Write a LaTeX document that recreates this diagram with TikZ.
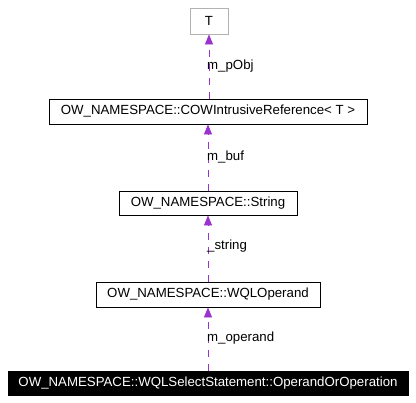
\documentclass[tikz,border=0pt]{standalone}
\usepackage{fontspec}
\setmainfont{Liberation Sans}
\usetikzlibrary{arrows.meta}
\definecolor{edgec}{HTML}{9A32CD}
\begin{document}
\begin{tikzpicture}[x=1bp,y=-1bp,
  cls/.style={draw=black,line width=0.8bp,minimum height=25bp,inner sep=0pt,font=\fontsize{13.3}{15}\selectfont,anchor=center},
  edge/.style={draw=edgec,line width=0.8bp,dash pattern=on 7bp off 7bp,-{Triangle[length=10bp,width=8bp]}},
  lbl/.style={anchor=west,inner sep=0pt,font=\fontsize{13.3}{15}\selectfont}]
\useasboundingbox (0,0) rectangle (416,403);
\node[cls,draw=gray!60,minimum width=38bp,minimum height=26bp] (t) at (209,21) {T};
\node[cls,minimum width=318bp] (cow) at (208,111.5) {OW\_NAMESPACE::COWIntrusiveReference< T >};
\node[cls,minimum width=178bp,minimum height=24bp] (str) at (208,203) {OW\_NAMESPACE::String};
\node[cls,minimum width=224bp] (wql) at (208,294.5) {OW\_NAMESPACE::WQLOperand};
\node[cls,fill=black,text=white,minimum width=400bp,minimum height=24bp] (op) at (208,383.5) {OW\_NAMESPACE::WQLSelectStatement::OperandOrOperation};
\draw[edge] (cow.north -| t.south) -- (t.south);
\draw[edge] (str.north) -- (cow.south);
\draw[edge] (wql.north) -- (str.south);
\draw[edge] (op.north) -- (wql.south);
\node[lbl] (l1) at (207,66) {m\_pObj};
\node[lbl] (l2) at (207,157) {m\_buf};
\node[lbl] (l3) at (207,246) {\_string};
\node[lbl] (l4) at (207,338) {m\_operand};
\end{tikzpicture}
\end{document}
